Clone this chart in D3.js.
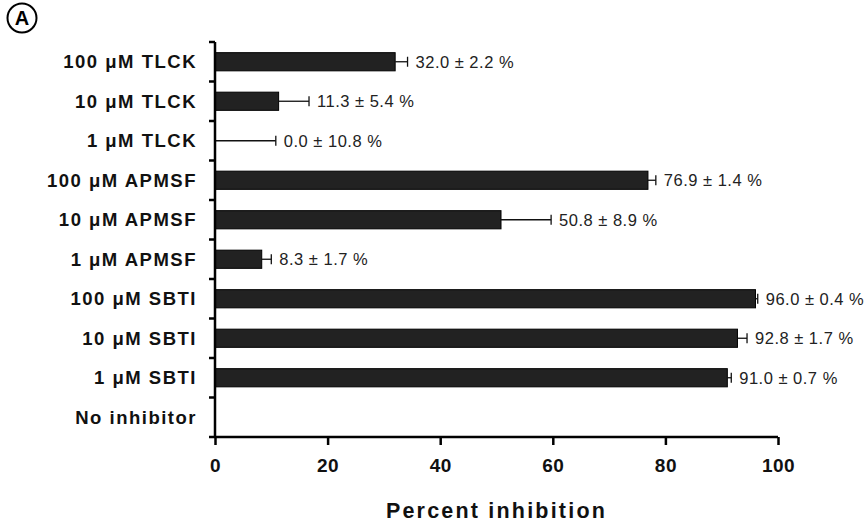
<!DOCTYPE html>
<html>
<head>
<meta charset="utf-8">
<script src="https://cdn.jsdelivr.net/npm/d3@7"></script>
<style>
  body { margin: 0; background: #fff; }
  text { font-family: "Liberation Sans", Arial, sans-serif; }
</style>
</head>
<body>
<div id="chart"></div>
<script>
// data
const categories = ["100 μM TLCK", "10 μM TLCK", "1 μM TLCK", "100 μM APMSF", "10 μM APMSF",
  "1 μM APMSF", "100 μM SBTI", "10 μM SBTI", "1 μM SBTI", "No inhibitor"];
const means = [32.0, 11.3, 0.0, 76.9, 50.8, 8.3, 96.0, 92.8, 91.0, null];
const errors = [2.2, 5.4, 10.8, 1.4, 8.9, 1.7, 0.4, 1.7, 0.7, null];
const xTicks = [0, 20, 40, 60, 80, 100];

const width = 868, height = 522;
const svg = d3.select("#chart").append("svg")
  .attr("width", width).attr("height", height);

const x = d3.scaleLinear().domain([0, 100]).range([215, 778]);
const y = d3.scaleBand().domain(categories).range([42, 437]).paddingInner(0.54).paddingOuter(0.27);

const rows = categories.map((c, i) => ({cat: c, mean: means[i], err: errors[i]}));
const withData = rows.filter(d => d.mean !== null);

// bars
svg.selectAll(".bar").data(withData).join("rect")
  .attr("class", "bar")
  .attr("x", x(0))
  .attr("y", d => y(d.cat))
  .attr("width", d => x(d.mean) - x(0))
  .attr("height", y.bandwidth())
  .attr("fill", "#222")
  .attr("stroke", "#000")
  .attr("stroke-width", 1);

// error bars
const eb = svg.selectAll(".err").data(withData).join("g").attr("class", "err");
eb.append("line")
  .attr("x1", d => x(d.mean)).attr("x2", d => x(d.mean + d.err))
  .attr("y1", d => y(d.cat) + y.bandwidth() / 2).attr("y2", d => y(d.cat) + y.bandwidth() / 2)
  .attr("stroke", "#111").attr("stroke-width", 1.3);
eb.append("line")
  .attr("x1", d => x(d.mean + d.err)).attr("x2", d => x(d.mean + d.err))
  .attr("y1", d => y(d.cat) + y.bandwidth() / 2 - 5).attr("y2", d => y(d.cat) + y.bandwidth() / 2 + 5)
  .attr("stroke", "#111").attr("stroke-width", 1.3);

// value labels
svg.selectAll(".val").data(withData).join("text")
  .attr("class", "val")
  .attr("x", d => x(d.mean + d.err) + 8)
  .attr("y", d => y(d.cat) + y.bandwidth() / 2 + 6)
  .attr("font-size", 16.5)
  .attr("letter-spacing", 0.5)
  .attr("fill", "#222")
  .text(d => d.mean.toFixed(1) + " ± " + d.err.toFixed(1) + " %");

// y axis: line, ticks at band boundaries, bold labels
const yAxis = svg.append("g");
yAxis.append("line")
  .attr("x1", x(0)).attr("x2", x(0)).attr("y1", 42).attr("y2", 438)
  .attr("stroke", "#000").attr("stroke-width", 2.5);
const bounds = categories.map(c => y(c) - y.step() * y.paddingInner() / 2);
yAxis.selectAll(".yt").data(bounds).join("line")
  .attr("x1", x(0) - 6).attr("x2", x(0))
  .attr("y1", d => d).attr("y2", d => d)
  .attr("stroke", "#000").attr("stroke-width", 2.5);
yAxis.selectAll(".yl").data(categories).join("text")
  .attr("x", 197)
  .attr("y", d => y(d) + y.bandwidth() / 2 + 6.5)
  .attr("text-anchor", "end")
  .attr("font-size", 18.5)
  .attr("letter-spacing", 1.5)
  .attr("font-weight", "bold")
  .attr("fill", "#111")
  .text(d => d);

// x axis
const xAxis = svg.append("g").attr("transform", "translate(0,437)")
  .call(d3.axisBottom(x).tickValues(xTicks).tickSize(8).tickPadding(14));
xAxis.select(".domain").attr("stroke", "#000").attr("stroke-width", 2.5)
  .attr("d", "M" + (x(0) - 6) + ",0H" + x(100));
xAxis.selectAll(".tick line").attr("stroke", "#000").attr("stroke-width", 2.5);
xAxis.selectAll(".tick text")
  .attr("font-size", 19).attr("font-weight", "bold").attr("fill", "#111")
  .attr("letter-spacing", 0.5)
  .style("font-family", "'Liberation Sans', Arial, sans-serif");

svg.append("text")
  .attr("x", (x(0) + x(100)) / 2)
  .attr("y", 518)
  .attr("text-anchor", "middle")
  .attr("font-size", 21.5)
  .attr("letter-spacing", 2.2)
  .attr("font-weight", "bold")
  .attr("fill", "#111")
  .text("Percent inhibition");

// panel letter
svg.append("circle").attr("cx", 22).attr("cy", 18).attr("r", 14.5)
  .attr("fill", "none").attr("stroke", "#000").attr("stroke-width", 2);
svg.append("text").attr("x", 22).attr("y", 25).attr("text-anchor", "middle")
  .attr("font-size", 20).attr("font-weight", "bold").text("A");
</script>
</body>
</html>
